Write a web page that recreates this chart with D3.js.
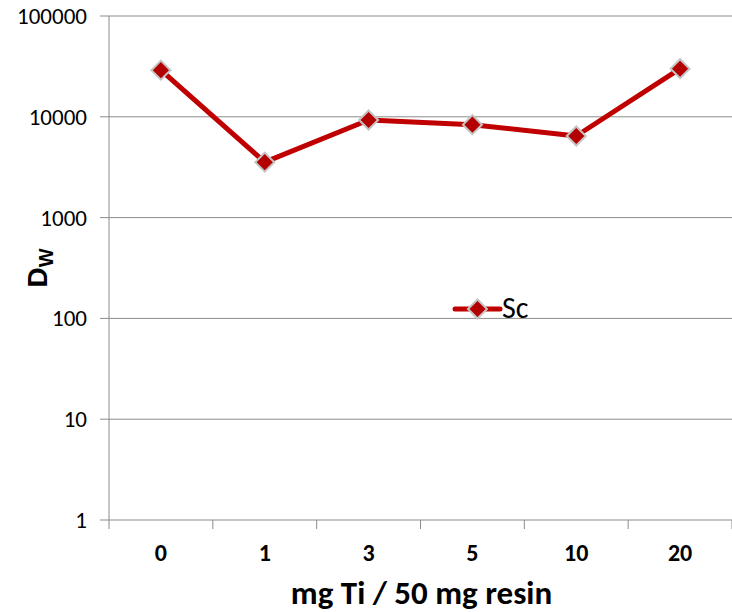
<!DOCTYPE html>
<html>
<head>
<meta charset="utf-8">
<script src="https://cdn.jsdelivr.net/npm/d3@7"></script>
<style>
  html, body { margin: 0; padding: 0; background: #fff; }
  svg { display: block; }
</style>
</head>
<body>
<svg id="chart" width="732" height="612"></svg>
<script>
// Ti loading per 50 mg resin and the weight distribution ratio of Sc
const categories = ["0", "1", "3", "5", "10", "20"];
const scValues = [29000, 3550, 9300, 8350, 6450, 30000];
const yTicks = [1, 10, 100, 1000, 10000, 100000];
const seriesName = "Sc";

(function draw() {
  const svg = d3.select("#chart");
  const plotLeft = 109, plotRight = 732, plotTop = 16, plotBottom = 520;
  const font = "Carlito, Calibri, 'Liberation Sans', sans-serif";

  const x = d3.scaleBand().domain(categories).range([plotLeft, plotRight]);
  const y = d3.scaleLog().domain([1, 100000]).range([plotBottom, plotTop]);

  const gridColor = "#8c8c8c";
  const red = "#c00000";

  // horizontal gridlines
  svg.append("g")
    .selectAll("line")
    .data(yTicks)
    .join("line")
    .attr("x1", plotLeft - 9).attr("x2", plotRight)
    .attr("y1", d => y(d)).attr("y2", d => y(d))
    .attr("stroke", gridColor).attr("stroke-width", 1);

  // y axis line
  svg.append("line")
    .attr("x1", plotLeft).attr("x2", plotLeft)
    .attr("y1", plotTop).attr("y2", plotBottom)
    .attr("stroke", gridColor).attr("stroke-width", 1);

  // y tick labels
  svg.append("g")
    .selectAll("text")
    .data(yTicks)
    .join("text")
    .attr("x", 87)
    .attr("y", d => y(d))
    .attr("dy", "0.35em")
    .attr("text-anchor", "end")
    .attr("font-family", font)
    .attr("font-size", 23)
    .attr("fill", "#000")
    .text(d => d);

  // x category boundary ticks
  const boundaries = categories.map(c => x(c)).concat([x(categories[categories.length - 1]) + x.bandwidth()]);
  svg.append("g")
    .selectAll("line")
    .data(boundaries)
    .join("line")
    .attr("x1", d => d).attr("x2", d => d)
    .attr("y1", plotBottom).attr("y2", plotBottom + 9)
    .attr("stroke", gridColor).attr("stroke-width", 1);

  // x tick labels
  svg.append("g")
    .selectAll("text")
    .data(categories)
    .join("text")
    .attr("x", d => x(d) + x.bandwidth() / 2)
    .attr("y", 561)
    .attr("text-anchor", "middle")
    .attr("font-family", font)
    .attr("font-weight", "bold")
    .attr("font-size", 24)
    .attr("fill", "#000")
    .text(d => d);

  // axis titles
  svg.append("text")
    .attr("x", 421.5).attr("y", 604)
    .attr("text-anchor", "middle")
    .attr("font-family", font)
    .attr("font-weight", "bold")
    .attr("font-size", 33)
    .attr("fill", "#000")
    .text("mg Ti / 50 mg resin");

  const yTitle = svg.append("text")
    .attr("transform", "translate(47,268) rotate(-90)")
    .attr("text-anchor", "middle")
    .attr("font-family", "'Liberation Sans', Arial, sans-serif")
    .attr("font-weight", "bold")
    .attr("fill", "#000");
  yTitle.append("tspan").attr("font-size", 28).text("D");
  yTitle.append("tspan").attr("font-size", 20).attr("dy", 6).text("W");

  // series line
  const line = d3.line()
    .x((d, i) => x(categories[i]) + x.bandwidth() / 2)
    .y(d => y(d));

  svg.append("path")
    .datum(scValues)
    .attr("d", line)
    .attr("fill", "none")
    .attr("stroke", red)
    .attr("stroke-width", 5)
    .attr("stroke-linejoin", "round");

  // diamond markers
  const diamond = d3.symbol().type(d3.symbolSquare).size(180);
  svg.append("g")
    .selectAll("path")
    .data(scValues)
    .join("path")
    .attr("d", diamond)
    .attr("transform", (d, i) => `translate(${x(categories[i]) + x.bandwidth() / 2},${y(d)}) rotate(45)`)
    .attr("fill", "#b30000")
    .attr("stroke", "#c4c4c4")
    .attr("stroke-width", 2);

  // legend
  const lg = svg.append("g").attr("transform", "translate(455,309)");
  lg.append("line")
    .attr("x1", 0).attr("x2", 45)
    .attr("y1", 0).attr("y2", 0)
    .attr("stroke", red).attr("stroke-width", 5)
    .attr("stroke-linecap", "round");
  lg.append("path")
    .attr("d", diamond)
    .attr("transform", "translate(22.5,0) rotate(45)")
    .attr("fill", "#b30000")
    .attr("stroke", "#c4c4c4")
    .attr("stroke-width", 2);
  lg.append("text")
    .attr("x", 47).attr("y", 9)
    .attr("font-family", font)
    .attr("font-size", 30)
    .attr("fill", "#000")
    .text(seriesName);
})();
</script>
</body>
</html>
